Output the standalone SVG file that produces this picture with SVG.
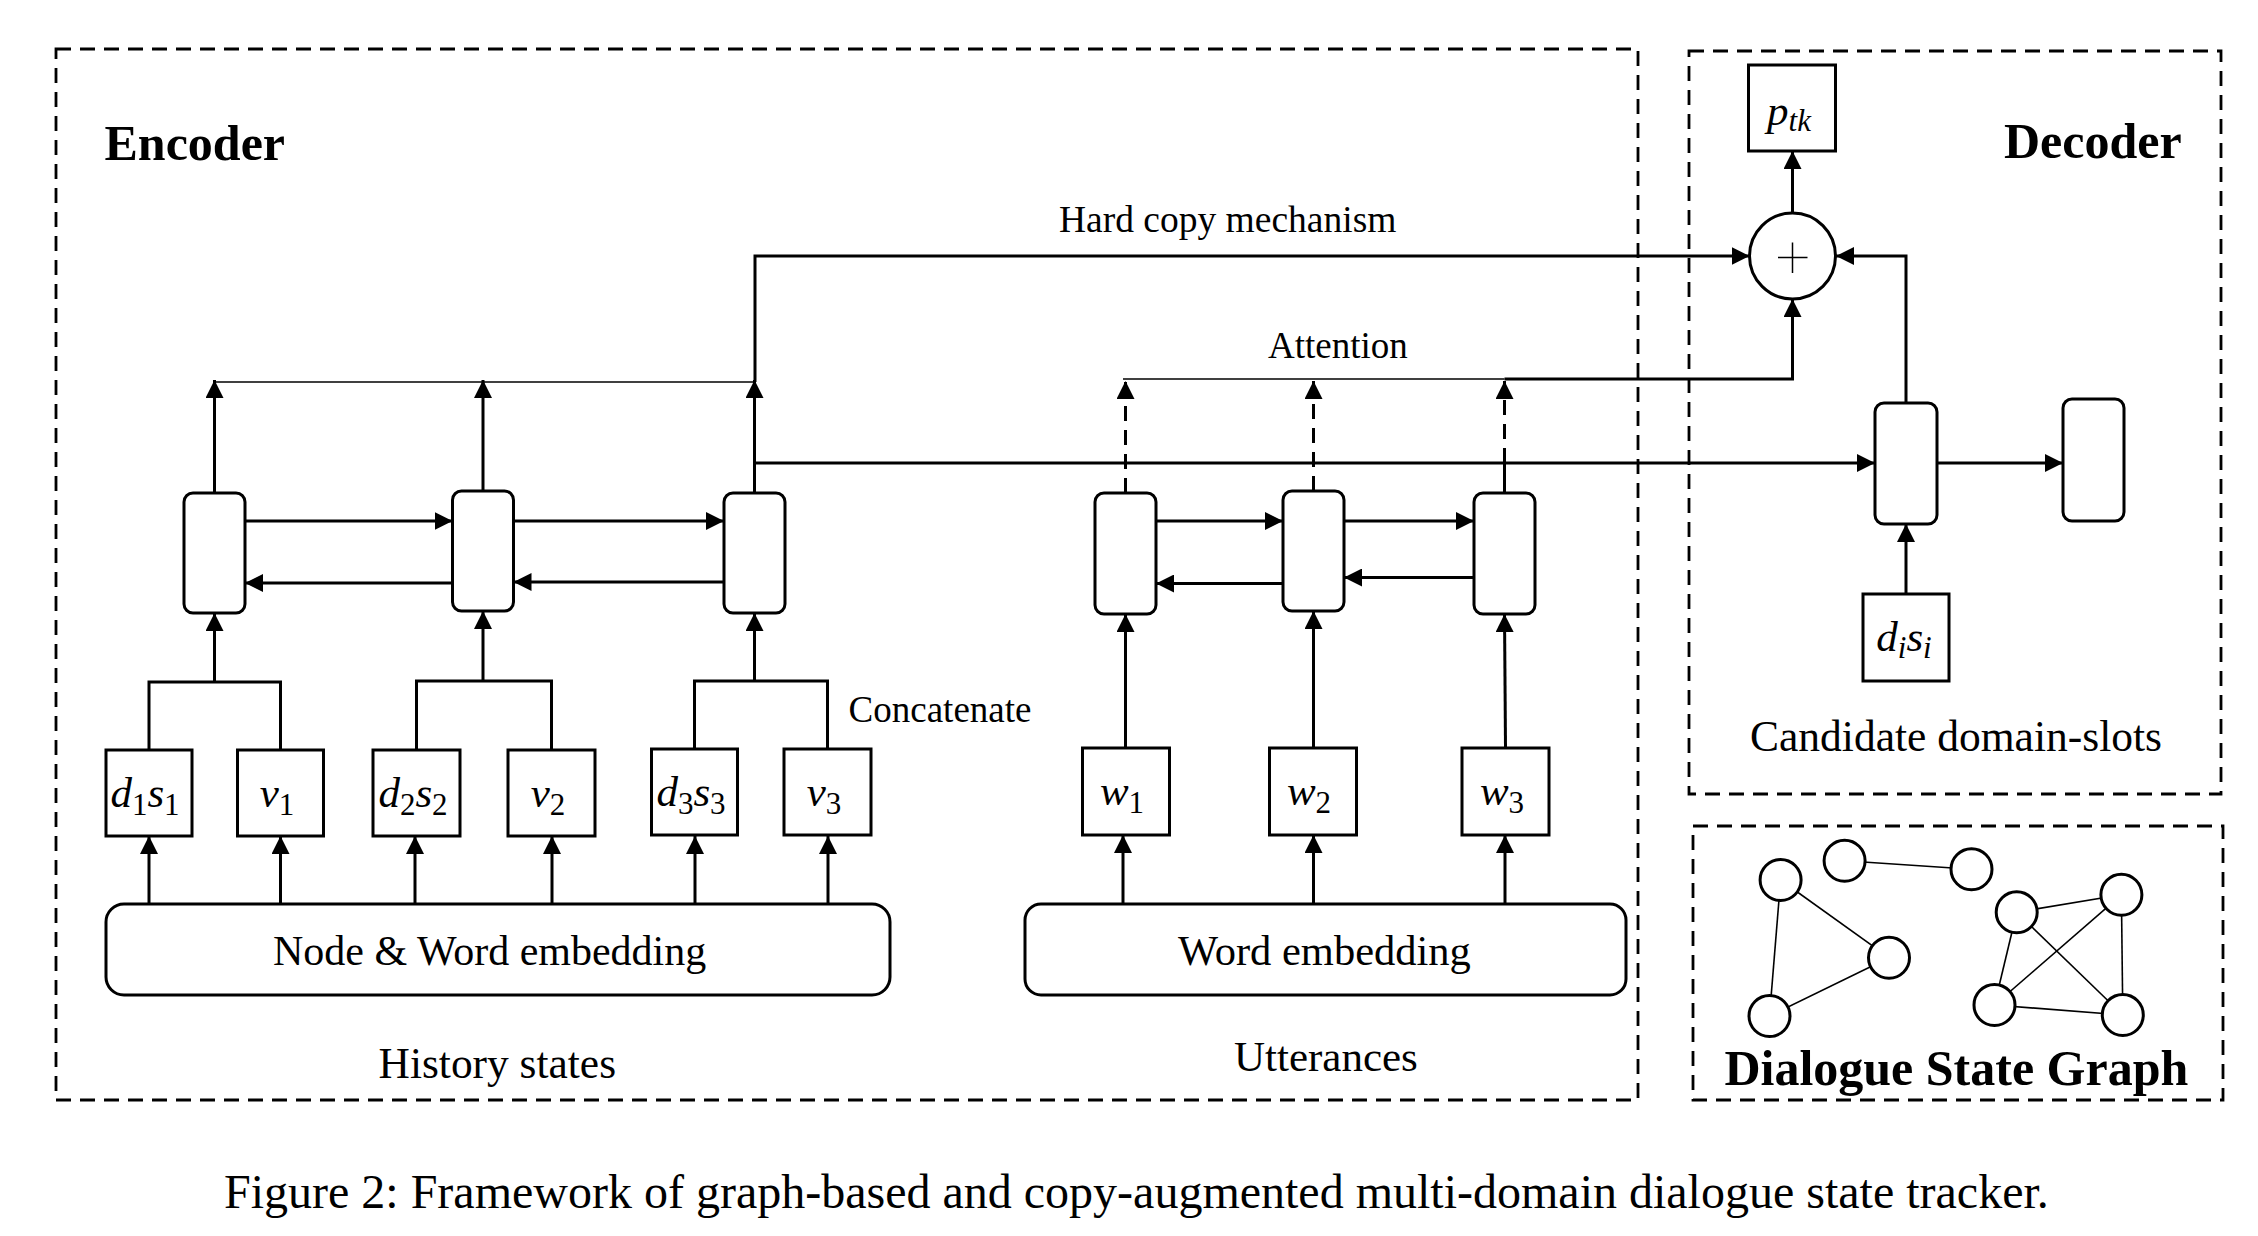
<svg xmlns="http://www.w3.org/2000/svg" width="2258" height="1236" viewBox="0 0 2258 1236">
<defs>
<marker id="ah" viewBox="0 0 18 18" markerWidth="18" markerHeight="18" refX="18" refY="9" orient="auto" markerUnits="userSpaceOnUse"><path d="M0,0L18,9L0,18z" fill="#000"/></marker>
</defs>
<style>
.frame{fill:none;stroke:#000;stroke-width:2.8;stroke-dasharray:15 9}
.cell{fill:#fff;stroke:#000;stroke-width:3}
.box{fill:#fff;stroke:#000;stroke-width:3}
.c{fill:none;stroke:#000;stroke-width:3}
.a{marker-end:url(#ah)}
.thin{fill:none;stroke:#000;stroke-width:1.5}
.dsh{stroke-dasharray:15 9}
.t{font-family:"Liberation Serif","Times New Roman",serif;fill:#000}
.b{font-weight:bold}
.m{font-family:"Liberation Serif","Times New Roman",serif;font-style:italic;font-size:43px;fill:#000}
.s{font-size:31px}
.n{font-style:normal}
.g{fill:#fff;stroke:#000;stroke-width:3}
.e{stroke:#000;stroke-width:1.6}
</style>
<rect width="2258" height="1236" fill="#fff"/>

<g id="encoder-frame">
<rect class="frame" x="56" y="49" width="1582" height="1051"/>
<text class="t b" x="104.5" y="160" font-size="50">Encoder</text>
</g>
<g id="decoder-frame">
<rect class="frame" x="1689" y="51" width="532" height="743"/>
<text class="t b" x="2004" y="158" font-size="50">Decoder</text>
<text class="t" x="1750" y="750.5" font-size="43.5">Candidate domain-slots</text>
</g>
<g id="graph-frame">
<rect class="frame" x="1693" y="826" width="530" height="274"/>
</g>

<g id="connectors">
<path class="c a" d="M245,521H452.5"/>
<path class="c a" d="M513.5,521H724"/>
<path class="c a" d="M452.5,583H245"/>
<path class="c a" d="M724,582H513.5"/>
<path class="c a" d="M1156,521H1283"/>
<path class="c a" d="M1344,521H1474"/>
<path class="c a" d="M1283,583.5H1156"/>
<path class="c a" d="M1474,577.5H1344"/>
<path class="c a" d="M214.5,493V380"/>
<path class="c a" d="M483,491V380"/>
<path class="c a" d="M754.5,493V380"/>
<path class="thin" d="M214.5,382H755"/>
<path class="c a" d="M755,382V256H1749.5"/>
<path class="c a" d="M755,463H1875"/>
<path class="c" d="M149,750V682H280.5V750"/>
<path class="c a" d="M214.5,682V613"/>
<path class="c" d="M416.5,750V681H551.5V750"/>
<path class="c a" d="M483,681V611"/>
<path class="c" d="M694.5,750V681H827.5V750"/>
<path class="c a" d="M754.5,681V613"/>
<path class="c a" d="M149,904V836"/>
<path class="c a" d="M280.5,904V836"/>
<path class="c a" d="M415,904V836"/>
<path class="c a" d="M552,904V836"/>
<path class="c a" d="M695,904V836"/>
<path class="c a" d="M828,904V836"/>
<path class="c a" d="M1123,904V835"/>
<path class="c a" d="M1313.5,904V835"/>
<path class="c a" d="M1505,904V835"/>
<path class="c a" d="M1125.5,748V614"/>
<path class="c a" d="M1313.5,748V611"/>
<path class="c a" d="M1505.5,748L1504.5,614"/>
<path class="c dsh a" d="M1125.5,493V381"/>
<path class="c dsh a" d="M1313.5,491V381"/>
<path class="c" d="M1504.5,493V463"/>
<path class="c dsh a" d="M1504.5,463V381"/>
<path class="thin" d="M1123,379H1504.5"/>
<path class="c a" d="M1504.5,379H1792.5V299"/>
<path class="c a" d="M1792.5,213V151"/>
<path class="c a" d="M1906,403V256H1836"/>
<path class="c a" d="M1937,463H2063"/>
<path class="c a" d="M1906,594V524"/>
</g>

<g id="history-cell-1"><rect class="cell" x="184" y="493" width="61" height="120" rx="9"/></g>
<g id="history-cell-2"><rect class="cell" x="452.5" y="491" width="61" height="120" rx="9"/></g>
<g id="history-cell-3"><rect class="cell" x="724" y="493" width="61" height="120" rx="9"/></g>
<g id="utter-cell-1"><rect class="cell" x="1095" y="493" width="61" height="121" rx="9"/></g>
<g id="utter-cell-2"><rect class="cell" x="1283" y="491" width="61" height="120" rx="9"/></g>
<g id="utter-cell-3"><rect class="cell" x="1474" y="493" width="61" height="121" rx="9"/></g>
<g id="decoder-cell-1"><rect class="cell" x="1875" y="403" width="62" height="121" rx="9"/></g>
<g id="decoder-cell-2"><rect class="cell" x="2063" y="399" width="61" height="122" rx="9"/></g>

<g id="d1s1"><rect class="box" x="106" y="750" width="86" height="86"/><text class="m" x="145" y="807" text-anchor="middle">d<tspan class="s n" dy="8">1</tspan><tspan dy="-8">s</tspan><tspan class="s n" dy="8">1</tspan></text></g>
<g id="v1"><rect class="box" x="237.5" y="750" width="86" height="86"/><text class="m" x="277" y="807" text-anchor="middle">v<tspan class="s n" dy="8">1</tspan></text></g>
<g id="d2s2"><rect class="box" x="373" y="750" width="87" height="86"/><text class="m" x="413" y="807" text-anchor="middle">d<tspan class="s n" dy="8">2</tspan><tspan dy="-8">s</tspan><tspan class="s n" dy="8">2</tspan></text></g>
<g id="v2"><rect class="box" x="508" y="750" width="87" height="86"/><text class="m" x="548" y="807" text-anchor="middle">v<tspan class="s n" dy="8">2</tspan></text></g>
<g id="d3s3"><rect class="box" x="651.5" y="749" width="86" height="86"/><text class="m" x="691" y="806" text-anchor="middle">d<tspan class="s n" dy="8">3</tspan><tspan dy="-8">s</tspan><tspan class="s n" dy="8">3</tspan></text></g>
<g id="v3"><rect class="box" x="784" y="749" width="87" height="86"/><text class="m" x="824" y="806" text-anchor="middle">v<tspan class="s n" dy="8">3</tspan></text></g>
<g id="w1"><rect class="box" x="1082.5" y="748" width="87" height="87"/><text class="m" x="1122" y="805" text-anchor="middle">w<tspan class="s n" dy="8">1</tspan></text></g>
<g id="w2"><rect class="box" x="1269.5" y="748" width="87" height="87"/><text class="m" x="1309" y="805" text-anchor="middle">w<tspan class="s n" dy="8">2</tspan></text></g>
<g id="w3"><rect class="box" x="1462" y="748" width="87" height="87"/><text class="m" x="1502" y="805" text-anchor="middle">w<tspan class="s n" dy="8">3</tspan></text></g>

<g id="node-word-embedding"><rect class="box" x="106" y="904" width="784" height="91" rx="18"/><text class="t" x="273" y="965" font-size="42">Node &amp; Word embedding</text></g>
<g id="word-embedding"><rect class="box" x="1025" y="904" width="601" height="91" rx="16"/><text class="t" x="1178" y="965" font-size="42.5">Word embedding</text></g>

<g id="sum"><circle class="box" cx="1792.5" cy="256" r="43"/><path class="thin" d="M1778,257.5H1807.5M1792.5,242.5V273"/></g>
<g id="ptk"><rect class="box" x="1748.5" y="65" width="87" height="86"/><text class="m" x="1789" y="125" text-anchor="middle">p<tspan class="s" dy="6">tk</tspan></text></g>
<g id="disi"><rect class="box" x="1863" y="594" width="86" height="87"/><text class="m" x="1904" y="651" text-anchor="middle">d<tspan class="s" dy="7">i</tspan><tspan dy="-7">s</tspan><tspan class="s" dy="7">i</tspan></text></g>

<g id="labels">
<text class="t" x="1059" y="232" font-size="37.5">Hard copy mechanism</text>
<text class="t" x="1268" y="357.5" font-size="37">Attention</text>
<text class="t" x="848.6" y="722" font-size="37">Concatenate</text>
<text class="t" x="378.6" y="1078" font-size="43.4">History states</text>
<text class="t" x="1234" y="1070.6" font-size="43">Utterances</text>
</g>

<g id="dialogue-state-graph">
<line class="e" x1="1844.6" y1="860.8" x2="1971.5" y2="869.3"/>
<line class="e" x1="1780.6" y1="880" x2="1889" y2="957.7"/>
<line class="e" x1="1780.6" y1="880" x2="1769.5" y2="1016"/>
<line class="e" x1="1769.5" y1="1016" x2="1889" y2="957.7"/>
<line class="e" x1="2016.7" y1="912.2" x2="2121.4" y2="894.8"/>
<line class="e" x1="2016.7" y1="912.2" x2="1994.5" y2="1005"/>
<line class="e" x1="2016.7" y1="912.2" x2="2122.8" y2="1015"/>
<line class="e" x1="2121.4" y1="894.8" x2="1994.5" y2="1005"/>
<line class="e" x1="2121.4" y1="894.8" x2="2122.8" y2="1015"/>
<line class="e" x1="1994.5" y1="1005" x2="2122.8" y2="1015"/>
<circle class="g" cx="1780.6" cy="880" r="20.5"/>
<circle class="g" cx="1844.6" cy="860.8" r="20.5"/>
<circle class="g" cx="1971.5" cy="869.3" r="20.5"/>
<circle class="g" cx="1889" cy="957.7" r="20.5"/>
<circle class="g" cx="1769.5" cy="1016" r="20.5"/>
<circle class="g" cx="2016.7" cy="912.2" r="20.5"/>
<circle class="g" cx="2121.4" cy="894.8" r="20.5"/>
<circle class="g" cx="1994.5" cy="1005" r="20.5"/>
<circle class="g" cx="2122.8" cy="1015" r="20.5"/>
<text class="t b" x="1724.4" y="1084.6" font-size="50">Dialogue State Graph</text>
</g>

<g id="caption">
<text class="t" x="224" y="1208" font-size="48">Figure 2: Framework of graph-based and copy-augmented multi-domain dialogue state tracker.</text>
</g>
</svg>
